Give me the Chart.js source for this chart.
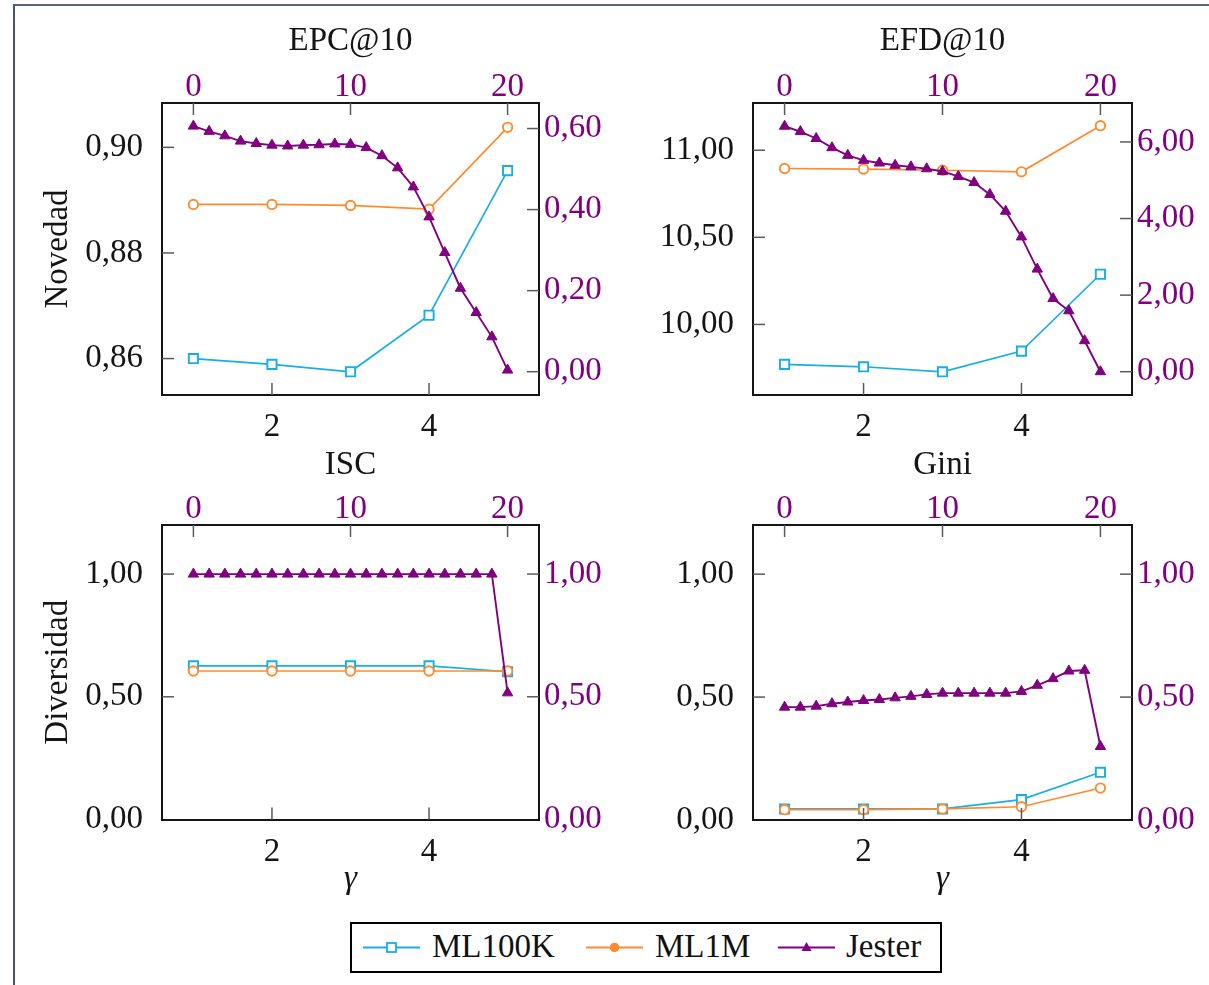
<!DOCTYPE html>
<html>
<head>
<meta charset="utf-8">
<script src="https://cdn.jsdelivr.net/npm/chart.js@4.4.1/dist/chart.umd.min.js"></script>
<style>
  html, body { margin: 0; padding: 0; background: #fff; }
  body { width: 1209px; height: 985px; position: relative; overflow: hidden; font-family: 'Liberation Serif', 'DejaVu Serif', serif; }
  .frame { position: absolute; left: 13px; top: 4px; right: -4px; bottom: -4px; border-top: 2px solid #56647c; border-left: 2px solid #46546c; }
  canvas { position: absolute; }
  #legend { position: absolute; left: 350px; top: 922px; width: 588px; height: 47px; border: 2px solid #000; background: #fff; }
  .sample { position: absolute; top: 13px; }
  .lbl { position: absolute; top: 4px; font-size: 33px; line-height: 36px; color: #111; }
</style>
</head>
<body>
<div class="frame"></div>
<canvas id="c-epc" width="589" height="445" style="left:16px;top:0px"></canvas>
<canvas id="c-efd" width="604" height="445" style="left:605px;top:0px"></canvas>
<canvas id="c-isc" width="589" height="470" style="left:16px;top:445px"></canvas>
<canvas id="c-gini" width="604" height="470" style="left:605px;top:445px"></canvas>
<div id="legend"></div>
<script>
'use strict';

// ── Data ─────────────────────────────────────────────────────────
const GAMMA = [1, 2, 3, 4, 5];
const JESTER_X = [0, 1, 2, 3, 4, 5, 6, 7, 8, 9, 10, 11, 12, 13, 14, 15, 16, 17, 18, 19, 20];

const SERIES = ['ML100K', 'ML1M', 'Jester'];

const EPC_ML100K = [0.8600, 0.8589, 0.8575, 0.8682, 0.8956];
const EPC_ML1M   = [0.8892, 0.8892, 0.8890, 0.8883, 0.9038];
const EPC_JESTER = [0.606, 0.593, 0.582, 0.569, 0.563, 0.559, 0.557, 0.559, 0.560, 0.562, 0.561,
                    0.553, 0.533, 0.503, 0.456, 0.382, 0.294, 0.206, 0.146, 0.086, 0.004];

const EFD_ML100K = [9.771, 9.757, 9.728, 9.847, 10.288];
const EFD_ML1M   = [10.895, 10.892, 10.885, 10.876, 11.141];
const EFD_JESTER = [6.41, 6.27, 6.09, 5.85, 5.65, 5.52, 5.45, 5.39, 5.35, 5.30, 5.23,
                    5.10, 4.94, 4.63, 4.19, 3.52, 2.68, 1.91, 1.59, 0.81, 0.00];

const ISC_ML100K = [0.626, 0.626, 0.626, 0.626, 0.602];
const ISC_ML1M   = [0.605, 0.605, 0.605, 0.605, 0.605];
const ISC_JESTER = [1.00, 1.00, 1.00, 1.00, 1.00, 1.00, 1.00, 1.00, 1.00, 1.00, 1.00,
                    1.00, 1.00, 1.00, 1.00, 1.00, 1.00, 1.00, 1.00, 1.00, 0.516];

const GINI_ML100K = [0.045, 0.045, 0.045, 0.083, 0.194];
const GINI_ML1M   = [0.042, 0.042, 0.045, 0.054, 0.130];
const GINI_JESTER = [0.459, 0.459, 0.463, 0.473, 0.480, 0.486, 0.490, 0.497, 0.503, 0.511, 0.516,
                     0.516, 0.516, 0.516, 0.516, 0.523, 0.548, 0.575, 0.606, 0.609, 0.299];

// tick labels
const X_TICKS = [2, 4];
const X2_TICKS = [0, 10, 20];
const EPC_L_TICKS = [0.86, 0.88, 0.90];
const EPC_R_TICKS = [0, 0.2, 0.4, 0.6];
const EFD_L_TICKS = [10.0, 10.5, 11.0];
const EFD_R_TICKS = [0, 2, 4, 6];
const DIV_TICKS = [0, 0.5, 1.0];

// ── Style ────────────────────────────────────────────────────────
const BLUE = '#16aee8';
const ORANGE = '#ff8b2e';
const PURPLE = '#800080';
const INK = '#151515';
const SERIF = "'Liberation Serif', 'DejaVu Serif', serif";
const FONT_TICK = { family: SERIF, size: 33, lineHeight: 1 };
const FONT_TITLE = { family: SERIF, size: 33, lineHeight: 1 };
const FONT_GAMMA = { family: SERIF, size: 33, lineHeight: 1, style: 'italic' };
const TICK_LEN = 12;

const dec2 = (v) => Number(v).toFixed(2).replace('.', ',');
const int0 = (v) => String(Math.round(v));

// ── Helpers ──────────────────────────────────────────────────────
const innerTicks = {
  id: 'innerTicks',
  afterDatasetsDraw(chart) {
    const { ctx, chartArea: a } = chart;
    ctx.save();
    ctx.strokeStyle = '#5a5a5a';
    ctx.lineWidth = 1.5;
    Object.values(chart.scales).forEach((s) => {
      s.ticks.forEach((t) => {
        if (t.value <= s.min || t.value >= s.max) return;
        const p = s.getPixelForValue(t.value);
        ctx.beginPath();
        if (s.position === 'left')   { ctx.moveTo(a.left, p);   ctx.lineTo(a.left + TICK_LEN, p); }
        if (s.position === 'right')  { ctx.moveTo(a.right, p);  ctx.lineTo(a.right - TICK_LEN, p); }
        if (s.position === 'top')    { ctx.moveTo(p, a.top);    ctx.lineTo(p, a.top + TICK_LEN); }
        if (s.position === 'bottom') { ctx.moveTo(p, a.bottom); ctx.lineTo(p, a.bottom - TICK_LEN); }
        ctx.stroke();
      });
    });
    ctx.restore();
  },
};

function axis(o) {
  const horiz = o.position === 'top' || o.position === 'bottom';
  let titlePad = { top: 0, bottom: 0 };
  if (o.position === 'bottom') titlePad = { top: 0, bottom: o.titlePad || 0 };
  else titlePad = { top: o.titlePad || 0, bottom: 0 };
  return {
    type: 'linear',
    position: o.position,
    min: o.min,
    max: o.max,
    bounds: 'data',
    afterBuildTicks: (s) => { s.ticks = o.ticks.map((v) => ({ value: v })); },
    afterFit: (s) => { if (horiz) s.height = o.size; else s.width = o.size; },
    grid: { display: true, drawOnChartArea: false, drawTicks: false },
    border: { display: true, color: INK, width: 2 },
    ticks: {
      color: o.color, padding: o.pad, font: FONT_TICK,
      callback: o.fmt, maxRotation: 0, minRotation: 0, autoSkip: false,
    },
    title: o.title
      ? { display: true, text: o.title, color: INK, font: o.titleFont || FONT_TITLE, padding: titlePad }
      : { display: false },
  };
}

function points(xs, ys) {
  return xs.map((x, i) => ({ x, y: ys[i] }));
}

function datasets(ml100k, ml1m, jester) {
  return [
    {
      label: SERIES[0], data: points(GAMMA, ml100k), xAxisID: 'x', yAxisID: 'y', order: 3,
      borderColor: BLUE, borderWidth: 1.7, pointStyle: 'rect', pointRadius: 6.5,
      pointBorderWidth: 1.9, pointBackgroundColor: '#fff', pointBorderColor: BLUE,
    },
    {
      label: SERIES[1], data: points(GAMMA, ml1m), xAxisID: 'x', yAxisID: 'y', order: 2,
      borderColor: ORANGE, borderWidth: 1.7, pointStyle: 'circle', pointRadius: 4.7,
      pointBorderWidth: 1.9, pointBackgroundColor: '#fff', pointBorderColor: ORANGE,
    },
    {
      label: SERIES[2], data: points(JESTER_X, jester), xAxisID: 'x2', yAxisID: 'y2', order: 1,
      borderColor: PURPLE, borderWidth: 1.9, pointStyle: 'triangle', pointRadius: 6,
      pointBorderWidth: 1, pointBackgroundColor: PURPLE, pointBorderColor: PURPLE,
    },
  ];
}

function makeChart(id, cfg) {
  const ctx = document.getElementById(id).getContext('2d');
  return new Chart(ctx, {
    type: 'line',
    data: { datasets: datasets(cfg.ml100k, cfg.ml1m, cfg.jester) },
    plugins: [innerTicks],
    options: {
      responsive: false,
      devicePixelRatio: 1,
      animation: false,
      layout: { padding: 0 },
      plugins: { legend: { display: false }, tooltip: { enabled: false } },
      elements: { line: { tension: 0 } },
      scales: {
        x: axis({ position: 'bottom', min: 0.6, max: 5.4, ticks: X_TICKS, size: cfg.bottom,
                  pad: 16, color: INK, fmt: int0, title: cfg.xTitle, titlePad: 19, titleFont: FONT_GAMMA }),
        x2: axis({ position: 'top', min: -2, max: 22, ticks: X2_TICKS, size: cfg.top,
                   pad: -1, color: PURPLE, fmt: int0, title: cfg.title, titlePad: cfg.titlePad }),
        y: axis({ position: 'left', min: cfg.yMin, max: cfg.yMax, ticks: cfg.yTicks, size: cfg.left,
                  pad: 19, color: INK, fmt: dec2, title: cfg.yTitle, titlePad: cfg.yTitlePad }),
        y2: axis({ position: 'right', min: cfg.y2Min, max: cfg.y2Max, ticks: cfg.y2Ticks, size: cfg.right,
                   pad: 5, color: PURPLE, fmt: dec2 }),
      },
    },
  });
}

// ── Charts ───────────────────────────────────────────────────────
makeChart('c-epc', {
  ml100k: EPC_ML100K, ml1m: EPC_ML1M, jester: EPC_JESTER,
  title: 'EPC@10', titlePad: 25, yTitle: 'Novedad', yTitlePad: 26,
  yMin: 0.8531, yMax: 0.9084, yTicks: EPC_L_TICKS,
  y2Min: -0.0575, y2Max: 0.663, y2Ticks: EPC_R_TICKS,
  left: 146, right: 66, top: 103, bottom: 50,
});

makeChart('c-efd', {
  ml100k: EFD_ML100K, ml1m: EFD_ML1M, jester: EFD_JESTER,
  title: 'EFD@10', titlePad: 25,
  yMin: 9.595, yMax: 11.271, yTicks: EFD_L_TICKS,
  y2Min: -0.608, y2Max: 7.017, y2Ticks: EFD_R_TICKS,
  left: 148, right: 77, top: 103, bottom: 50,
});

makeChart('c-isc', {
  ml100k: ISC_ML100K, ml1m: ISC_ML1M, jester: ISC_JESTER,
  title: 'ISC', titlePad: 4, yTitle: 'Diversidad', yTitlePad: 26, xTitle: 'γ',
  yMin: 0, yMax: 1.2, yTicks: DIV_TICKS,
  y2Min: 0, y2Max: 1.2, y2Ticks: DIV_TICKS,
  left: 146, right: 66, top: 80, bottom: 95.5,
});

makeChart('c-gini', {
  ml100k: GINI_ML100K, ml1m: GINI_ML1M, jester: GINI_JESTER,
  title: 'Gini', titlePad: 4, xTitle: 'γ',
  yMin: 0, yMax: 1.2, yTicks: DIV_TICKS,
  y2Min: 0, y2Max: 1.2, y2Ticks: DIV_TICKS,
  left: 148, right: 77, top: 80, bottom: 95,
});

// ── Legend ───────────────────────────────────────────────────────
const LEGEND_COLORS = [BLUE, ORANGE, PURPLE];
const LEGEND_SAMPLE_X = [11, 234, 426];
const LEGEND_TEXT_X = [80, 303, 494];

function markerSvg(i, color) {
  if (i === 0) return `<rect x="24" y="6" width="9" height="9" fill="#fff" stroke="${color}" stroke-width="1.8"/>`;
  if (i === 1) return `<circle cx="28.5" cy="10.5" r="4" fill="${color}" stroke="${color}" stroke-width="1.5"/>`;
  return `<polygon points="28.5,5 33.5,14 23.5,14" fill="${color}"/>`;
}

const legend = document.getElementById('legend');
legend.innerHTML = SERIES.map((name, i) => `
  <svg class="sample" style="left:${LEGEND_SAMPLE_X[i]}px" width="57" height="21">
    <line x1="0" y1="10.5" x2="57" y2="10.5" stroke="${LEGEND_COLORS[i]}" stroke-width="1.8"/>
    ${markerSvg(i, LEGEND_COLORS[i])}
  </svg>
  <span class="lbl" style="left:${LEGEND_TEXT_X[i]}px">${name}</span>
`).join('');
</script>
</body>
</html>
